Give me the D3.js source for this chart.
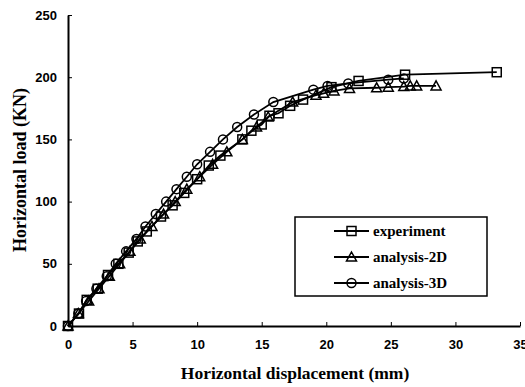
<!DOCTYPE html>
<html>
<head>
<meta charset="utf-8">
<script src="https://cdn.jsdelivr.net/npm/d3@7"></script>
<style>
  html, body { margin: 0; padding: 0; background: #fff; }
  svg { display: block; }
</style>
</head>
<body>
<div id="chart"></div>
<script>
// --- data ---
const expX = [0, 0.85, 1.45, 2.3, 3.1, 3.9, 4.7, 5.4, 6.1, 7.2, 8.1, 9.0, 10.0, 10.9, 11.8, 13.5, 14.2, 15.0, 15.6, 16.3, 17.2, 18.2, 20.4, 22.5, 26.1, 33.2];
const expY = [0, 10, 21, 30, 41, 50, 59, 68, 76, 88, 97, 107, 118, 129, 137, 150, 157, 162, 169, 171, 177, 182, 192, 197, 202, 204];

const a2dX = [0, 0.8, 1.6, 2.4, 3.2, 4.0, 4.8, 5.6, 6.5, 7.4, 8.3, 9.2, 10.2, 11.2, 12.3, 13.5, 14.6, 15.5, 17.4, 19.2, 19.8, 20.6, 21.8, 23.9, 24.8, 26.0, 26.5, 27.0, 28.5];
const a2dY = [0, 10, 20, 30, 40, 50, 60, 70, 80, 90, 100, 110, 120, 130, 140, 150, 160, 168, 180, 185.5, 187, 189, 191, 191.5, 192, 192.5, 193, 193, 193];

const a3dX = [0, 0.8, 1.4, 2.2, 3.0, 3.7, 4.5, 5.3, 6.0, 6.8, 7.6, 8.4, 9.2, 10.0, 11.0, 12.0, 13.1, 14.4, 15.9, 19.0, 20.1, 21.7, 24.8, 26.0];
const a3dY = [0, 10, 20, 30, 40, 50, 60, 70, 80, 90, 100, 110, 120, 130, 140, 150, 160, 170, 180, 190, 193, 195, 198, 199];

const xTicks = [0, 5, 10, 15, 20, 25, 30, 35];
const yTicks = [0, 50, 100, 150, 200, 250];
const seriesNames = ['experiment', 'analysis-2D', 'analysis-3D'];
const seriesMarkers = ['square', 'triangle', 'circle'];

const W = 525, H = 387;
const margin = { left: 68, right: 5, top: 15, bottom: 61 };

const svg = d3.select('#chart').append('svg').attr('width', W).attr('height', H);

const x = d3.scaleLinear().domain([0, 35]).range([margin.left, W - margin.right]);
const y = d3.scaleLinear().domain([0, 250]).range([H - margin.bottom, margin.top]);

const tickFont = '"Liberation Sans", Arial, sans-serif';
const titleFont = '"Liberation Serif", "Times New Roman", serif';

// axes
const xAxis = d3.axisBottom(x).tickValues(xTicks).tickSize(-4).tickSizeOuter(0).tickPadding(14);
const gx = svg.append('g').attr('transform', `translate(0,${y(0)})`).call(xAxis);
gx.select('.domain').attr('stroke', '#000').attr('stroke-width', 2);
gx.selectAll('.tick line').attr('stroke', '#000').attr('stroke-width', 1);
gx.selectAll('.tick text').style('font-family', tickFont).style('font-weight', 'bold').style('font-size', '13px').attr('fill', '#000');

const yAxis = d3.axisLeft(y).tickValues(yTicks).tickSize(-4).tickSizeOuter(0).tickPadding(11);
const gy = svg.append('g').attr('transform', `translate(${x(0)},0)`).call(yAxis);
gy.select('.domain').attr('stroke', '#000').attr('stroke-width', 2);
gy.selectAll('.tick line').attr('stroke', '#000').attr('stroke-width', 1);
gy.selectAll('.tick text').style('font-family', tickFont).style('font-weight', 'bold').style('font-size', '13px').attr('fill', '#000');

// axis titles
svg.append('text').attr('x', 295).attr('y', 379).attr('text-anchor', 'middle')
  .style('font-family', titleFont).style('font-weight', 'bold').style('font-size', '17.5px')
  .text('Horizontal displacement (mm)');
svg.append('text').attr('transform', 'translate(26,170) rotate(-90)').attr('text-anchor', 'middle')
  .style('font-family', titleFont).style('font-weight', 'bold').style('font-size', '18px')
  .text('Horizontal load (KN)');

// markers
function drawMarker(g, type, cx, cy) {
  if (type === 'square') {
    g.append('rect').attr('x', cx - 4.5).attr('y', cy - 4.5).attr('width', 9).attr('height', 9)
      .attr('fill', 'none').attr('stroke', '#000').attr('stroke-width', 1.5);
  } else if (type === 'triangle') {
    g.append('path').attr('d', `M${cx},${cy - 5}L${cx + 5},${cy + 4}L${cx - 5},${cy + 4}Z`)
      .attr('fill', 'none').attr('stroke', '#000').attr('stroke-width', 1.5);
  } else {
    g.append('circle').attr('cx', cx).attr('cy', cy).attr('r', 4.5)
      .attr('fill', 'none').attr('stroke', '#000').attr('stroke-width', 1.5);
  }
}

const series = [
  { xs: expX, ys: expY },
  { xs: a2dX, ys: a2dY },
  { xs: a3dX, ys: a3dY }
];

const line = d3.line().x(d => x(d[0])).y(d => y(d[1]));
series.forEach((s, i) => {
  const pts = s.xs.map((v, k) => [v, s.ys[k]]);
  const g = svg.append('g');
  g.append('path').datum(pts).attr('d', line).attr('fill', 'none').attr('stroke', '#000').attr('stroke-width', 1.8);
  pts.forEach(p => drawMarker(g, seriesMarkers[i], x(p[0]), y(p[1])));
});

// legend
const lg = svg.append('g');
lg.append('rect').attr('x', 295).attr('y', 217).attr('width', 192).attr('height', 79)
  .attr('fill', '#fff').attr('stroke', '#000').attr('stroke-width', 1.5);
seriesNames.forEach((name, i) => {
  const ly = 231 + i * 26;
  lg.append('line').attr('x1', 334).attr('x2', 369).attr('y1', ly).attr('y2', ly).attr('stroke', '#000').attr('stroke-width', 1.8);
  drawMarker(lg, seriesMarkers[i], 351.5, ly);
  lg.append('text').attr('x', 373).attr('y', ly + 5)
    .style('font-family', titleFont).style('font-weight', 'bold').style('font-size', '15px')
    .text(name);
});
</script>
</body>
</html>
